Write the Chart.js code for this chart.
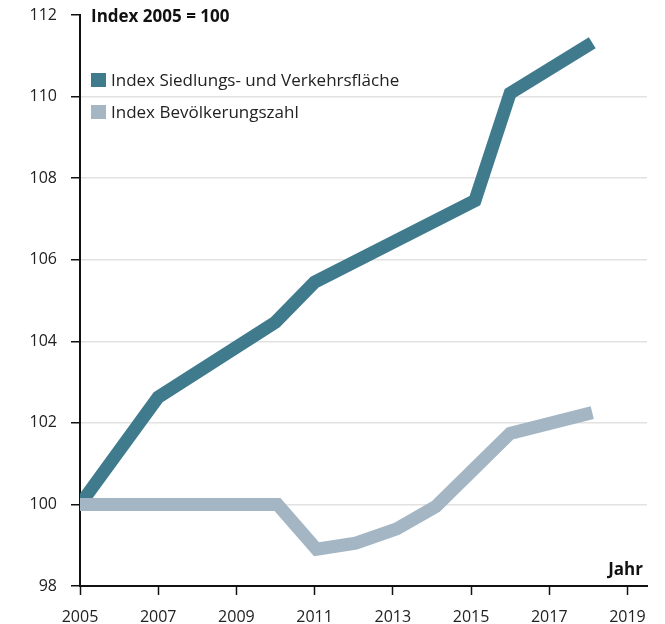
<!DOCTYPE html>
<html>
<head>
<meta charset="utf-8">
<script src="https://cdn.jsdelivr.net/npm/chart.js@4"></script>
<style>
  html, body { margin: 0; padding: 0; background: #fff; }
  #wrap { width: 665px; height: 624px; }
</style>
</head>
<body>
<div id="wrap"><canvas id="chart"></canvas></div>
<script>
// values
const siedlungYears = [2005, 2007, 2010, 2011, 2015.1, 2016, 2018.1];
const siedlungValues = [100, 102.63, 104.47, 105.45, 107.45, 110.08, 111.32];
const bevYears = [2005, 2010.05, 2011.05, 2012.05, 2013.1, 2014.1, 2016, 2018.1];
const bevValues = [100, 100, 98.9, 99.05, 99.4, 99.95, 101.74, 102.25];
const xTicks = [2005, 2007, 2009, 2011, 2013, 2015, 2017, 2019];
const yTicks = [98, 100, 102, 104, 106, 108, 110, 112];

const FONT = '"Open Sans", "Noto Sans", sans-serif';
const DARK = "#3f7b8d";
const LIGHT = "#a4b6c4";

function pairs(xs, ys) {
  return xs.map((x, i) => ({ x: x, y: ys[i] }));
}

// title, legend and "Jahr" drawn on top of the chart area
const textPlugin = {
  id: "texts",
  afterDraw(chart) {
    const ctx = chart.ctx;
    const a = chart.chartArea;
    ctx.save();
    ctx.fillStyle = "#111";
    ctx.textBaseline = "alphabetic";
    ctx.font = "bold 17px " + FONT;
    ctx.textAlign = "left";
    ctx.fillText("Index 2005 = 100", a.left + 11, a.top + 7);

    chart.data.datasets.forEach((ds, i) => {
      const y = a.top + 65 + i * 32;
      ctx.fillStyle = ds.borderColor;
      ctx.fillRect(a.left + 11, y - 7, 15, 14);
      ctx.fillStyle = "#222";
      ctx.font = "17px " + FONT;
      ctx.fillText(ds.label, a.left + 31, y + 6);
    });

    ctx.fillStyle = "#111";
    ctx.font = "bold 17px " + FONT;
    ctx.textAlign = "right";
    ctx.fillText("Jahr", a.right - 4, a.bottom - 11);
    ctx.restore();
  }
};

const ctx = document.getElementById("chart").getContext("2d");
new Chart(ctx, {
  type: "line",
  data: {
    datasets: [
      {
        label: "Index Siedlungs- und Verkehrsfläche",
        data: pairs(siedlungYears, siedlungValues),
        borderColor: DARK,
        backgroundColor: DARK,
        borderWidth: 13,
        borderCapStyle: "butt",
        borderJoinStyle: "miter",
        pointRadius: 0,
        tension: 0,
        order: 1
      },
      {
        label: "Index Bevölkerungszahl",
        data: pairs(bevYears, bevValues),
        borderColor: LIGHT,
        backgroundColor: LIGHT,
        borderWidth: 13,
        borderCapStyle: "butt",
        borderJoinStyle: "miter",
        pointRadius: 0,
        tension: 0,
        order: 0
      }
    ]
  },
  options: {
    responsive: true,
    maintainAspectRatio: false,
    animation: false,
    layout: { padding: { top: 15, right: 18, left: 0, bottom: 0 } },
    plugins: {
      legend: { display: false },
      tooltip: { enabled: false }
    },
    scales: {
      x: {
        type: "linear",
        min: 2005,
        max: 2019.5,
        afterBuildTicks: (scale) => {
          scale.ticks = xTicks.map((v) => ({ value: v }));
        },
        afterFit: (scale) => {
          scale.height = 38;
          scale.paddingLeft = 0;
          scale.paddingRight = 0;
        },
        border: { color: "#111", width: 2 },
        grid: {
          drawOnChartArea: false,
          drawTicks: true,
          tickLength: 9,
          tickColor: "#111",
          tickWidth: 1.5
        },
        ticks: {
          autoSkip: false,
          maxRotation: 0,
          padding: 13,
          color: "#222",
          font: { family: FONT, size: 16 },
          callback: (v) => String(v)
        }
      },
      y: {
        type: "linear",
        min: 98,
        max: 112,
        afterBuildTicks: (scale) => {
          scale.ticks = yTicks.map((v) => ({ value: v }));
        },
        afterFit: (scale) => {
          scale.width = 80;
          scale.paddingTop = 0;
          scale.paddingBottom = 0;
        },
        border: { color: "#111", width: 2 },
        grid: {
          color: (c) => (c.tick && (c.tick.value === 98 || c.tick.value === 112) ? "rgba(0,0,0,0)" : "#e2e2e2"),
          lineWidth: 1.5,
          drawTicks: true,
          tickLength: 9,
          tickColor: "#111",
          tickWidth: 1.5
        },
        ticks: {
          padding: 14,
          color: "#222",
          font: { family: FONT, size: 16 },
          callback: (v) => String(v)
        }
      }
    }
  },
  plugins: [textPlugin]
});
</script>
</body>
</html>
